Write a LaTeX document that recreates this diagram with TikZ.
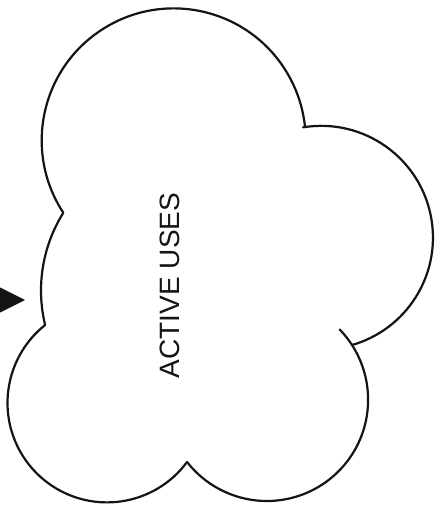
\documentclass[tikz,border=0pt]{standalone}
\usepackage{fontspec}
\setmainfont{Liberation Sans}
\usepackage{tikz}
\usetikzlibrary{calc,arrows.meta}
\definecolor{ink}{HTML}{141414}
\tikzset{
  cloudline/.style={draw=ink, line width=2.2pt, line cap=round},
  pointer/.style={-{Triangle[length=40pt,width=40pt]}, draw=ink, fill=ink, line width=1pt}
}

\begin{document}
\begin{tikzpicture}[x=1pt, y=1pt]
  \useasboundingbox (0,0) rectangle (436,510);
  \clip (0,0) rectangle (436,510);
  \fill[white] (0,0) rectangle (436,510);

  % centres of the cloud lobes
  \coordinate (cTop) at (173.7,369.6);
  \coordinate (cRight) at (321.2,272.4);
  \coordinate (cLowR) at (266.9,110.2);
  \coordinate (cLowL) at (107,107.1);
  \coordinate (cLeft) at (187.4,219.5);

  % Cloud outline, one arc per lobe (clockwise)
  \draw[cloudline] ($(cTop)+(213.25:132)$) arc[start angle=213.25, end angle=5.83, radius=132];
  \draw[cloudline] ($(cRight)+(99.3:111.75)$) arc[start angle=99.3, end angle=-74, radius=111.75];
  \draw[cloudline] ($(cLowR)+(44:101.2)$) arc[start angle=44, end angle=-142.1, radius=101.2];
  \draw[cloudline] ($(cLowL)+(-36.5:99.5)$) arc[start angle=-36.5, end angle=-231.5, radius=99.5];
  \draw[cloudline] ($(cLeft)+(193.6:146.4)$) arc[start angle=193.6, end angle=148.1, radius=146.4];

  % Label
  \node[rotate=90, inner sep=0pt, text=ink, font=\fontsize{28}{28}\selectfont] (activeLabel) at (170,224.5) {ACTIVE USES};

  % Arrow coming in from the left
  \coordinate (arrowTail) at (-40,210);
  \coordinate (arrowTip) at (25,210);
  \draw[pointer] (arrowTail) -- (arrowTip);
\end{tikzpicture}
\end{document}
